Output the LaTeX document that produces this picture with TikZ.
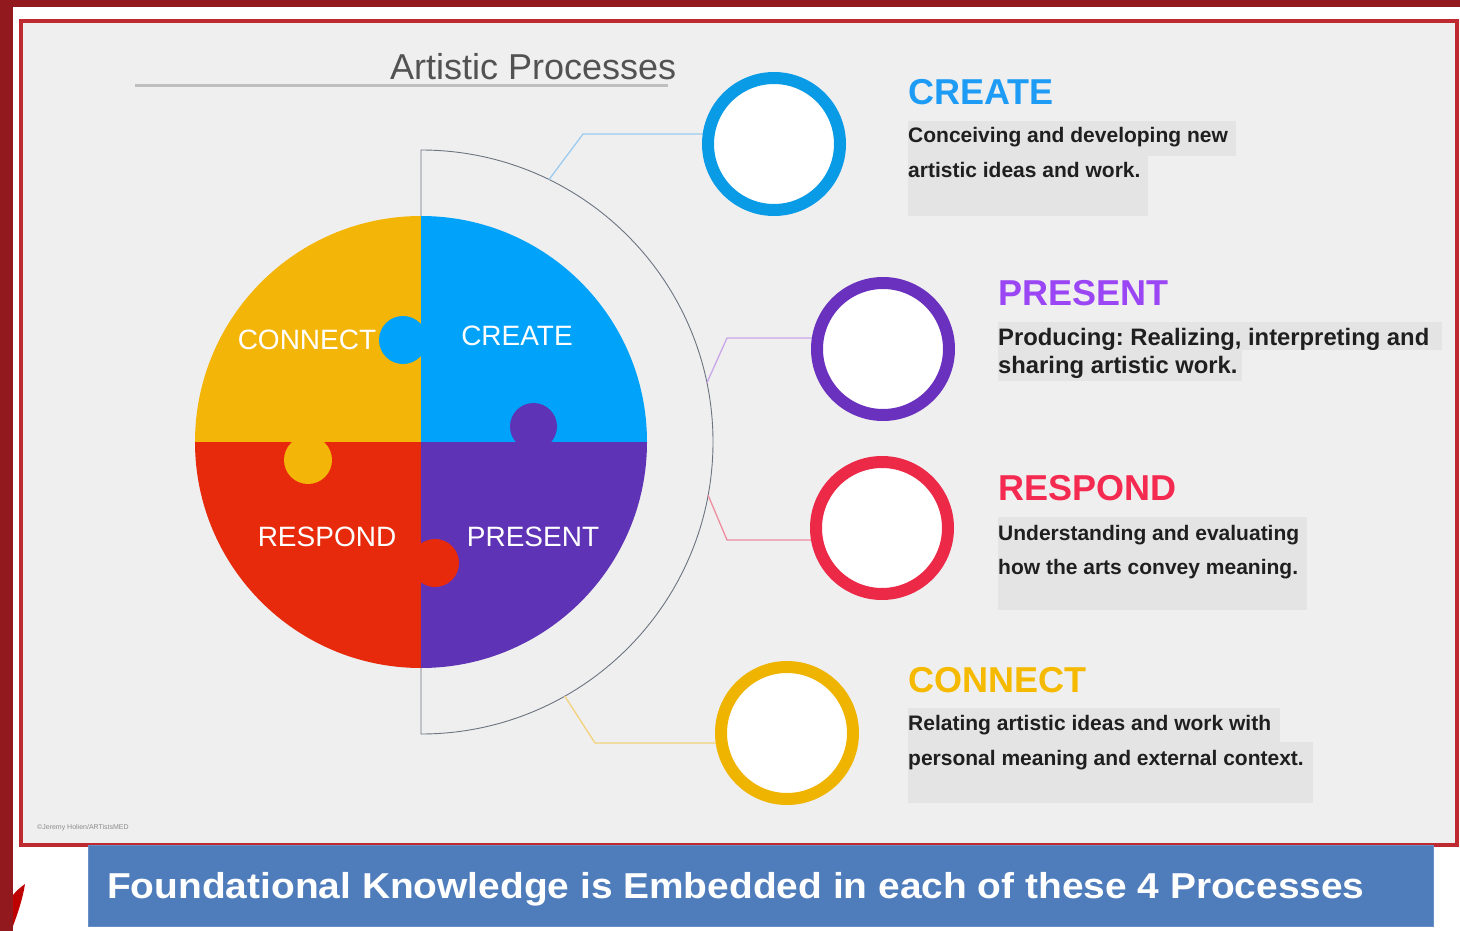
\documentclass[tikz,border=0pt]{standalone}
\usepackage{fontspec}
\usetikzlibrary{calc}
\setmainfont{Liberation Sans}
\frenchspacing
\definecolor{darkred}{HTML}{921A1F}
\definecolor{framered}{HTML}{BE2A30}
\definecolor{panelbg}{HTML}{EFEFEF}
\definecolor{qyellow}{HTML}{F3B508}
\definecolor{qblue}{HTML}{00A2FA}
\definecolor{qred}{HTML}{E82A0C}
\definecolor{qpurple}{HTML}{5E33B5}
\definecolor{rblue}{HTML}{0A9BE6}
\definecolor{rpurple}{HTML}{6A30BE}
\definecolor{rred}{HTML}{EC2A48}
\definecolor{ryellow}{HTML}{EFB400}
\definecolor{hblue}{HTML}{1E9CF5}
\definecolor{hpurple}{HTML}{9B46F5}
\definecolor{hred}{HTML}{F52A50}
\definecolor{hyellow}{HTML}{F5BA00}
\definecolor{descbox}{HTML}{E4E4E4}
\definecolor{bannerblue}{HTML}{4F7DBB}
\definecolor{lblue}{HTML}{9DCBF0}
\definecolor{lpurple}{HTML}{C9A6E8}
\definecolor{lred}{HTML}{F08CA0}
\definecolor{lyellow}{HTML}{F2D27A}
\definecolor{arcgray}{HTML}{6C7480}
\tikzset{
  ring/.style={circle, draw=#1, line width=12pt, fill=white, minimum size=132pt, inner sep=0pt},
  heading/.style={anchor=base west, inner sep=0pt, font=\fontsize{36}{36}\selectfont\bfseries, text=#1},
  desc/.style={anchor=base west, inner sep=0pt, font=\fontsize{21}{21}\selectfont\bfseries, text=black!88},
  qlabel/.style={anchor=base, inner sep=0pt, text=white, font=\fontsize{28}{28}\selectfont},
  link/.style={draw=#1, line width=1.3pt},
}
\begin{document}
\begin{tikzpicture}[x=1pt,y=-1pt]
\useasboundingbox (0,0) rectangle (1460,931);
\fill[white] (0,0) rectangle (1460,931);
% outer dark red strips
\fill[darkred] (0,0) rectangle (1460,7);
\fill[darkred] (0,0) rectangle (13,931);
\fill[red!75!black] (13,895) .. controls (17,890) and (21,887) .. (25,884) .. controls (23,897) and (19,910) .. (13,926) -- cycle;
% panel
\draw[framered, line width=4.5pt, fill=panelbg] (21,21) rectangle (1457,845);
% title
\node[anchor=base west, inner sep=0pt, text=black!68, font=\fontsize{36}{36}\selectfont] (title) at (390,80) {Artistic Processes};
\draw[black!25, line width=3pt] (135,86) -- (668,86);
% half disc
\coordinate (ctr) at (421,442);
\draw[arcgray, line width=0.9pt, fill=panelbg] (421,150) arc[start angle=270, end angle=450, radius=292] -- cycle;
% connectors
\coordinate (aCreate) at ($(ctr)+(-64:292)$);
\coordinate (aPresent) at ($(ctr)+(-11.7:292)$);
\coordinate (aRespond) at ($(ctr)+(10.5:292)$);
\coordinate (aConnect) at ($(ctr)+(60.5:292)$);
\coordinate (kCreate) at (583,134);
\coordinate (kPresent) at (727,338);
\coordinate (kRespond) at (727,540);
\coordinate (kConnect) at (595,743);
\coordinate (cCreate) at (774,144);
\coordinate (cPresent) at (883,349);
\coordinate (cRespond) at (882,528);
\coordinate (cConnect) at (787,733);
\draw[link=lblue] (aCreate) -- (kCreate) -- (kCreate -| cCreate);
\draw[link=lpurple] (aPresent) -- (kPresent) -- (kPresent -| cPresent);
\draw[link=lred] (aRespond) -- (kRespond) -- (kRespond -| cRespond);
\draw[link=lyellow] (aConnect) -- (kConnect) -- (kConnect -| cConnect);
\node[ring=rblue] (ringCreate) at (cCreate) {};
\node[ring=rpurple] (ringPresent) at (cPresent) {};
\node[ring=rred] (ringRespond) at (cRespond) {};
\node[ring=ryellow] (ringConnect) at (cConnect) {};
% puzzle
\begin{scope}
\clip (ctr) circle[radius=226];
\fill[qyellow] (190,210) rectangle (421,442);
\fill[qblue] (421,210) rectangle (650,442);
\fill[qred] (190,442) rectangle (421,675);
\fill[qpurple] (421,442) rectangle (650,675);
\end{scope}
\fill[qblue] (403,340) circle[radius=24];
\fill[qpurple] (533.5,426.5) circle[radius=23.5];
\fill[qyellow] (308,460) circle[radius=24];
\fill[qred] (435,563) circle[radius=24];
\node[qlabel] (lConnect) at (307,349) {CONNECT};
\node[qlabel] (lCreate) at (517,345) {CREATE};
\node[qlabel] (lRespond) at (327,546) {RESPOND};
\node[qlabel] (lPresent) at (533,546) {PRESENT};
% CREATE text
\node[heading=hblue] (hCreate) at (908,105) {CREATE};
\fill[descbox] (908,121) rectangle (1236,156);
\fill[descbox] (908,156) rectangle (1148,216);
\node[desc] (d1a) at (908,143) {Conceiving and developing new};
\node[desc] (d1b) at (908,178) {artistic ideas and work.};
% PRESENT text
\node[heading=hpurple] (hPresent) at (998,305) {PRESENT};
\fill[descbox] (998,322) rectangle (1442,350);
\fill[descbox] (998,350) rectangle (1242,381);
\node[desc, font=\fontsize{23.8}{23.8}\selectfont\bfseries] (d2a) at (998,345) {Producing: Realizing, interpreting and};
\node[desc, font=\fontsize{23.8}{23.8}\selectfont\bfseries] (d2b) at (998,373) {sharing artistic work.};
% RESPOND text
\node[heading=hred] (hRespond) at (998,500) {RESPOND};
\fill[descbox] (998,517) rectangle (1307,610);
\node[desc] (d3a) at (998,540) {Understanding and evaluating};
\node[desc] (d3b) at (998,574) {how the arts convey meaning.};
% CONNECT text
\node[heading=hyellow] (hConnect) at (908,692) {CONNECT};
\fill[descbox] (908,708) rectangle (1280,742);
\fill[descbox] (908,742) rectangle (1313,803);
\node[desc] (d4a) at (908,730) {Relating artistic ideas and work with};
\node[desc] (d4b) at (908,765) {personal meaning and external context.};
% copyright
\node[anchor=base west, inner sep=0pt, text=black!45, font=\fontsize{7}{7}\selectfont] (copy) at (37,829) {©Jeremy Holien/ARTistsMED};
% banner
\node[fill=bannerblue, draw=bannerblue!85!white, line width=1pt, anchor=north west, minimum width=1345pt, minimum height=81pt, inner sep=0pt] (banner) at (88,845) {};
\node[anchor=base west, inner sep=0pt, text=white, font=\fontsize{36}{36}\selectfont\bfseries] (bannerText) at (107,898) {\scalebox{1.08}[1]{Foundational Knowledge is Embedded in each of these 4 Processes}};
\end{tikzpicture}
\end{document}
